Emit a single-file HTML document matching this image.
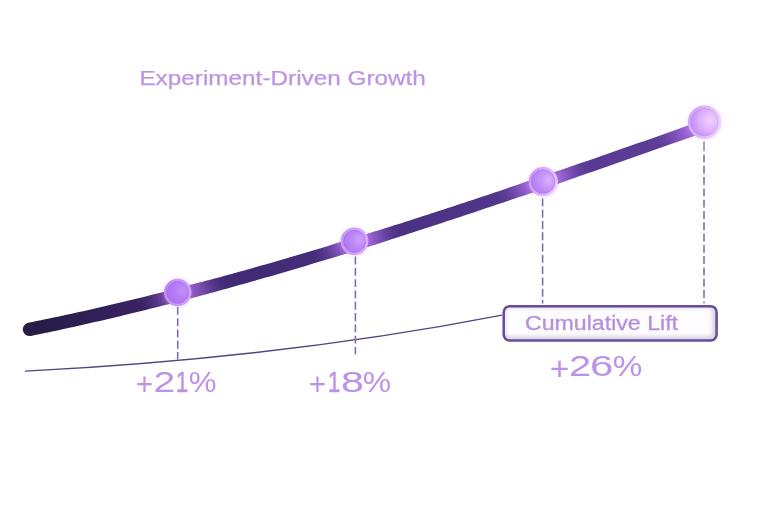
<!DOCTYPE html>
<html><head><meta charset="utf-8">
<style>
html,body{margin:0;padding:0;background:#fff;width:768px;height:512px;overflow:hidden}
svg{display:block}
text{font-family:"Liberation Sans",sans-serif}
</style></head>
<body>
<svg width="768" height="512" viewBox="0 0 768 512">
<defs>
  <linearGradient id="lineG" gradientUnits="userSpaceOnUse" x1="29" y1="0" x2="705" y2="0">
    <stop offset="0" stop-color="#281c48"/>
    <stop offset="0.022" stop-color="#281c48"/>
    <stop offset="0.07" stop-color="#2c1f52"/>
    <stop offset="0.124" stop-color="#36215e"/>
    <stop offset="0.3" stop-color="#422a74"/>
    <stop offset="0.349" stop-color="#432a76"/>
    <stop offset="0.63" stop-color="#4e3487"/>
    <stop offset="0.882" stop-color="#5a3b95"/>
    <stop offset="1" stop-color="#603e9c"/>
  </linearGradient>
  <radialGradient id="dotG0" cx="0.7" cy="0.44" r="0.85">
    <stop offset="0" stop-color="#c290f7"/>
    <stop offset="0.4" stop-color="#b47cf4"/>
    <stop offset="1" stop-color="#a86cf0"/>
  </radialGradient>
  <linearGradient id="ringG0" x1="0" y1="0.3" x2="1" y2="0.6">
    <stop offset="0" stop-color="#c08cf4"/>
    <stop offset="1" stop-color="#d4a4f8"/>
  </linearGradient>
  <radialGradient id="dotG1" cx="0.7" cy="0.44" r="0.85">
    <stop offset="0" stop-color="#cfa2f9"/>
    <stop offset="0.4" stop-color="#bc86f5"/>
    <stop offset="1" stop-color="#a86cf0"/>
  </radialGradient>
  <linearGradient id="ringG1" x1="0" y1="0.3" x2="1" y2="0.6">
    <stop offset="0" stop-color="#c898f5"/>
    <stop offset="1" stop-color="#dcaef8"/>
  </linearGradient>
  <radialGradient id="dotG2" cx="0.7" cy="0.44" r="0.85">
    <stop offset="0" stop-color="#dcb0fb"/>
    <stop offset="0.4" stop-color="#c492f7"/>
    <stop offset="1" stop-color="#aa6ef0"/>
  </radialGradient>
  <linearGradient id="ringG2" x1="0" y1="0.3" x2="1" y2="0.6">
    <stop offset="0" stop-color="#c898f6"/>
    <stop offset="1" stop-color="#eccafa"/>
  </linearGradient>
  <radialGradient id="dotG3" cx="0.7" cy="0.44" r="0.85">
    <stop offset="0" stop-color="#f2d0fc"/>
    <stop offset="0.4" stop-color="#dfb2fa"/>
    <stop offset="1" stop-color="#b078f2"/>
  </radialGradient>
  <linearGradient id="ringG3" x1="0" y1="0.3" x2="1" y2="0.6">
    <stop offset="0" stop-color="#d0a4f7"/>
    <stop offset="1" stop-color="#f0d0fb"/>
  </linearGradient>
  <radialGradient id="glow0" gradientUnits="userSpaceOnUse" cx="183.7" cy="292.5" r="46">
    <stop offset="0" stop-color="#b070ea" stop-opacity="0.76"/>
    <stop offset="0.34" stop-color="#b070ea" stop-opacity="0.58"/>
    <stop offset="0.64" stop-color="#b070ea" stop-opacity="0.22"/>
    <stop offset="0.8" stop-color="#b070ea" stop-opacity="0.08"/>
    <stop offset="1" stop-color="#b070ea" stop-opacity="0"/>
  </radialGradient>
  <radialGradient id="glow1" gradientUnits="userSpaceOnUse" cx="356.5" cy="241.4" r="46">
    <stop offset="0" stop-color="#b070ea" stop-opacity="0.95"/>
    <stop offset="0.34" stop-color="#b070ea" stop-opacity="0.72"/>
    <stop offset="0.64" stop-color="#b070ea" stop-opacity="0.28"/>
    <stop offset="0.8" stop-color="#b070ea" stop-opacity="0.10"/>
    <stop offset="1" stop-color="#b070ea" stop-opacity="0"/>
  </radialGradient>
  <radialGradient id="glow2" gradientUnits="userSpaceOnUse" cx="543.2" cy="181.7" r="50">
    <stop offset="0" stop-color="#b070ea" stop-opacity="1.03"/>
    <stop offset="0.34" stop-color="#b070ea" stop-opacity="0.78"/>
    <stop offset="0.64" stop-color="#b070ea" stop-opacity="0.30"/>
    <stop offset="0.8" stop-color="#b070ea" stop-opacity="0.11"/>
    <stop offset="1" stop-color="#b070ea" stop-opacity="0"/>
  </radialGradient>
  <radialGradient id="glow3" gradientUnits="userSpaceOnUse" cx="704.5" cy="122.2" r="54">
    <stop offset="0" stop-color="#b070ea" stop-opacity="1.09"/>
    <stop offset="0.34" stop-color="#b070ea" stop-opacity="0.83"/>
    <stop offset="0.64" stop-color="#b070ea" stop-opacity="0.32"/>
    <stop offset="0.8" stop-color="#b070ea" stop-opacity="0.11"/>
    <stop offset="1" stop-color="#b070ea" stop-opacity="0"/>
  </radialGradient>
  <radialGradient id="halo" cx="0.5" cy="0.5" r="0.5">
    <stop offset="0.7" stop-color="#c9a0f5" stop-opacity="0.2"/>
    <stop offset="1" stop-color="#c9a0f5" stop-opacity="0"/>
  </radialGradient>
  <clipPath id="boxClip"><rect x="503.7" y="306.2" width="212.9" height="34.4" rx="6" ry="6"/></clipPath>
  <filter id="blur2" x="-10%" y="-50%" width="120%" height="200%"><feGaussianBlur stdDeviation="2"/></filter>
  <linearGradient id="boxG" x1="0" y1="0" x2="1" y2="1">
    <stop offset="0" stop-color="#fbfafd"/>
    <stop offset="0.7" stop-color="#f8f6fb"/>
    <stop offset="1" stop-color="#ece8f2"/>
  </linearGradient>
</defs>
<rect width="768" height="512" fill="#fff"/>

<text x="139.4" y="84.8" font-size="20.7" fill="#bc94e4" stroke="#bc94e4" stroke-width="0.25" textLength="286.5" lengthAdjust="spacingAndGlyphs">Experiment-Driven Growth</text>

<path d="M25.0 371.2 C184.0 363.0 343.0 346.1 502.0 315.1" fill="none" stroke="#54447f" stroke-width="1.35"/>

<g stroke="#8068ae" stroke-width="1.55" stroke-dasharray="7.9 3.4">
  <line x1="177.7" y1="295.6" x2="177.7" y2="359.3"/>
  <line x1="355.4" y1="245.3" x2="355.4" y2="354.5"/>
  <line x1="542.6" y1="175.8" x2="542.6" y2="303.6"/>
  <line x1="704.0" y1="154.5" x2="704.0" y2="303.2"/>
  <line x1="704.0" y1="141.6" x2="704.0" y2="151.2" stroke="#9a7cc8" stroke-dasharray="none"/>
</g>

<path d="M28.17 322.83 L32.41 321.98 L36.64 321.12 L40.88 320.25 L45.11 319.37 L49.35 318.48 L53.58 317.59 L57.82 316.69 L62.05 315.78 L66.29 314.87 L70.53 313.95 L74.76 313.02 L79.00 312.08 L83.23 311.14 L87.47 310.18 L91.71 309.23 L95.94 308.26 L100.18 307.29 L104.42 306.31 L108.65 305.32 L112.89 304.33 L117.13 303.33 L121.36 302.32 L125.60 301.31 L129.84 300.29 L134.07 299.26 L138.31 298.23 L142.55 297.19 L146.79 296.14 L151.02 295.09 L155.26 294.03 L159.50 292.96 L163.74 291.89 L167.98 290.81 L172.21 289.73 L176.45 288.64 L180.69 287.54 L184.93 286.44 L189.17 285.33 L193.41 284.21 L197.64 283.09 L201.88 281.96 L206.12 280.83 L210.36 279.69 L214.60 278.55 L218.84 277.40 L223.08 276.24 L227.32 275.08 L231.56 273.91 L235.79 272.74 L240.03 271.56 L244.27 270.38 L248.51 269.19 L252.75 267.99 L256.99 266.80 L261.23 265.59 L265.47 264.38 L269.71 263.16 L273.95 261.94 L278.19 260.72 L282.43 259.49 L286.67 258.25 L290.91 257.01 L295.15 255.77 L299.39 254.52 L303.64 253.26 L307.88 252.00 L312.12 250.74 L316.36 249.47 L320.60 248.19 L324.84 246.91 L329.08 245.63 L333.32 244.34 L337.56 243.05 L341.80 241.75 L346.05 240.45 L350.29 239.15 L354.53 237.84 L358.77 236.53 L363.01 235.21 L367.25 233.89 L371.50 232.56 L375.74 231.23 L379.98 229.90 L384.22 228.56 L388.46 227.22 L392.71 225.87 L396.95 224.52 L401.19 223.17 L405.43 221.81 L409.68 220.45 L413.92 219.09 L418.16 217.72 L422.40 216.35 L426.65 214.98 L430.89 213.60 L435.13 212.22 L439.37 210.83 L443.62 209.44 L447.86 208.05 L452.10 206.66 L456.35 205.26 L460.59 203.86 L464.83 202.46 L469.08 201.05 L473.32 199.64 L477.56 198.23 L481.81 196.81 L486.05 195.40 L490.30 193.98 L494.54 192.55 L498.78 191.13 L503.03 189.70 L507.27 188.27 L511.52 186.83 L515.76 185.40 L520.00 183.96 L524.25 182.52 L528.49 181.07 L532.74 179.63 L536.98 178.18 L541.23 176.73 L545.47 175.27 L549.72 173.82 L553.96 172.36 L558.20 170.90 L562.45 169.44 L566.69 167.98 L570.94 166.52 L575.18 165.05 L579.43 163.58 L583.67 162.11 L587.92 160.64 L592.16 159.17 L596.41 157.69 L600.66 156.22 L604.90 154.74 L609.15 153.26 L613.39 151.78 L617.64 150.30 L621.88 148.81 L626.13 147.33 L630.37 145.84 L634.62 144.35 L638.87 142.87 L643.11 141.38 L647.36 139.89 L651.60 138.39 L655.85 136.90 L660.10 135.41 L664.34 133.91 L668.59 132.42 L672.84 130.92 L677.08 129.43 L681.33 127.93 L685.57 126.43 L689.82 124.93 L694.07 123.43 L698.31 121.93 L702.56 120.43 A5.80 5.80 0 0 1 706.44 131.37 L702.19 132.88 L697.95 134.39 L693.71 135.90 L689.46 137.41 L685.22 138.92 L680.97 140.43 L676.73 141.93 L672.49 143.44 L668.24 144.95 L664.00 146.45 L659.75 147.96 L655.51 149.46 L651.26 150.96 L647.02 152.47 L642.78 153.97 L638.53 155.47 L634.29 156.97 L630.04 158.46 L625.80 159.96 L621.55 161.46 L617.31 162.95 L613.06 164.44 L608.82 165.93 L604.57 167.42 L600.33 168.91 L596.08 170.40 L591.84 171.88 L587.59 173.37 L583.34 174.85 L579.10 176.33 L574.85 177.81 L570.61 179.29 L566.36 180.76 L562.12 182.23 L557.87 183.70 L553.62 185.17 L549.38 186.64 L545.13 188.11 L540.89 189.57 L536.64 191.03 L532.39 192.49 L528.15 193.94 L523.90 195.40 L519.66 196.85 L515.41 198.30 L511.16 199.75 L506.92 201.19 L502.67 202.63 L498.42 204.07 L494.18 205.51 L489.93 206.94 L485.68 208.37 L481.44 209.80 L477.19 211.23 L472.94 212.65 L468.69 214.07 L464.45 215.48 L460.20 216.90 L455.95 218.31 L451.71 219.72 L447.46 221.12 L443.21 222.52 L438.96 223.92 L434.71 225.31 L430.47 226.71 L426.22 228.09 L421.97 229.48 L417.72 230.86 L413.48 232.24 L409.23 233.61 L404.98 234.98 L400.73 236.35 L396.48 237.71 L392.23 239.07 L387.99 240.43 L383.74 241.78 L379.49 243.13 L375.24 244.47 L370.99 245.81 L366.74 247.14 L362.49 248.48 L358.24 249.80 L354.00 251.13 L349.75 252.45 L345.50 253.76 L341.25 255.07 L337.00 256.38 L332.75 257.68 L328.50 258.98 L324.25 260.27 L320.00 261.56 L315.75 262.84 L311.50 264.12 L307.25 265.40 L303.00 266.67 L298.75 267.93 L294.50 269.19 L290.25 270.45 L286.00 271.70 L281.75 272.94 L277.50 274.18 L273.25 275.42 L269.00 276.65 L264.75 277.87 L260.50 279.09 L256.25 280.31 L252.00 281.52 L247.75 282.72 L243.49 283.92 L239.24 285.11 L234.99 286.30 L230.74 287.48 L226.49 288.66 L222.24 289.83 L217.99 291.00 L213.73 292.16 L209.48 293.31 L205.23 294.46 L200.98 295.60 L196.73 296.74 L192.47 297.87 L188.22 298.99 L183.97 300.11 L179.72 301.22 L175.47 302.33 L171.21 303.43 L166.96 304.52 L162.71 305.61 L158.46 306.69 L154.20 307.77 L149.95 308.84 L145.70 309.90 L141.44 310.96 L137.19 312.00 L132.94 313.05 L128.68 314.08 L124.43 315.11 L120.18 316.13 L115.92 317.15 L111.67 318.16 L107.41 319.16 L103.16 320.16 L98.91 321.14 L94.65 322.12 L90.40 323.10 L86.14 324.07 L81.89 325.03 L77.63 325.98 L73.38 326.92 L69.13 327.86 L64.87 328.79 L60.62 329.71 L56.36 330.63 L52.11 331.54 L47.85 332.44 L43.59 333.33 L39.34 334.22 L35.08 335.10 L30.83 335.97 A6.70 6.70 0 0 1 28.17 322.83 Z" fill="url(#lineG)"/>
<g>
  <path d="M28.17 322.83 L32.41 321.98 L36.64 321.12 L40.88 320.25 L45.11 319.37 L49.35 318.48 L53.58 317.59 L57.82 316.69 L62.05 315.78 L66.29 314.87 L70.53 313.95 L74.76 313.02 L79.00 312.08 L83.23 311.14 L87.47 310.18 L91.71 309.23 L95.94 308.26 L100.18 307.29 L104.42 306.31 L108.65 305.32 L112.89 304.33 L117.13 303.33 L121.36 302.32 L125.60 301.31 L129.84 300.29 L134.07 299.26 L138.31 298.23 L142.55 297.19 L146.79 296.14 L151.02 295.09 L155.26 294.03 L159.50 292.96 L163.74 291.89 L167.98 290.81 L172.21 289.73 L176.45 288.64 L180.69 287.54 L184.93 286.44 L189.17 285.33 L193.41 284.21 L197.64 283.09 L201.88 281.96 L206.12 280.83 L210.36 279.69 L214.60 278.55 L218.84 277.40 L223.08 276.24 L227.32 275.08 L231.56 273.91 L235.79 272.74 L240.03 271.56 L244.27 270.38 L248.51 269.19 L252.75 267.99 L256.99 266.80 L261.23 265.59 L265.47 264.38 L269.71 263.16 L273.95 261.94 L278.19 260.72 L282.43 259.49 L286.67 258.25 L290.91 257.01 L295.15 255.77 L299.39 254.52 L303.64 253.26 L307.88 252.00 L312.12 250.74 L316.36 249.47 L320.60 248.19 L324.84 246.91 L329.08 245.63 L333.32 244.34 L337.56 243.05 L341.80 241.75 L346.05 240.45 L350.29 239.15 L354.53 237.84 L358.77 236.53 L363.01 235.21 L367.25 233.89 L371.50 232.56 L375.74 231.23 L379.98 229.90 L384.22 228.56 L388.46 227.22 L392.71 225.87 L396.95 224.52 L401.19 223.17 L405.43 221.81 L409.68 220.45 L413.92 219.09 L418.16 217.72 L422.40 216.35 L426.65 214.98 L430.89 213.60 L435.13 212.22 L439.37 210.83 L443.62 209.44 L447.86 208.05 L452.10 206.66 L456.35 205.26 L460.59 203.86 L464.83 202.46 L469.08 201.05 L473.32 199.64 L477.56 198.23 L481.81 196.81 L486.05 195.40 L490.30 193.98 L494.54 192.55 L498.78 191.13 L503.03 189.70 L507.27 188.27 L511.52 186.83 L515.76 185.40 L520.00 183.96 L524.25 182.52 L528.49 181.07 L532.74 179.63 L536.98 178.18 L541.23 176.73 L545.47 175.27 L549.72 173.82 L553.96 172.36 L558.20 170.90 L562.45 169.44 L566.69 167.98 L570.94 166.52 L575.18 165.05 L579.43 163.58 L583.67 162.11 L587.92 160.64 L592.16 159.17 L596.41 157.69 L600.66 156.22 L604.90 154.74 L609.15 153.26 L613.39 151.78 L617.64 150.30 L621.88 148.81 L626.13 147.33 L630.37 145.84 L634.62 144.35 L638.87 142.87 L643.11 141.38 L647.36 139.89 L651.60 138.39 L655.85 136.90 L660.10 135.41 L664.34 133.91 L668.59 132.42 L672.84 130.92 L677.08 129.43 L681.33 127.93 L685.57 126.43 L689.82 124.93 L694.07 123.43 L698.31 121.93 L702.56 120.43 A5.80 5.80 0 0 1 706.44 131.37 L702.19 132.88 L697.95 134.39 L693.71 135.90 L689.46 137.41 L685.22 138.92 L680.97 140.43 L676.73 141.93 L672.49 143.44 L668.24 144.95 L664.00 146.45 L659.75 147.96 L655.51 149.46 L651.26 150.96 L647.02 152.47 L642.78 153.97 L638.53 155.47 L634.29 156.97 L630.04 158.46 L625.80 159.96 L621.55 161.46 L617.31 162.95 L613.06 164.44 L608.82 165.93 L604.57 167.42 L600.33 168.91 L596.08 170.40 L591.84 171.88 L587.59 173.37 L583.34 174.85 L579.10 176.33 L574.85 177.81 L570.61 179.29 L566.36 180.76 L562.12 182.23 L557.87 183.70 L553.62 185.17 L549.38 186.64 L545.13 188.11 L540.89 189.57 L536.64 191.03 L532.39 192.49 L528.15 193.94 L523.90 195.40 L519.66 196.85 L515.41 198.30 L511.16 199.75 L506.92 201.19 L502.67 202.63 L498.42 204.07 L494.18 205.51 L489.93 206.94 L485.68 208.37 L481.44 209.80 L477.19 211.23 L472.94 212.65 L468.69 214.07 L464.45 215.48 L460.20 216.90 L455.95 218.31 L451.71 219.72 L447.46 221.12 L443.21 222.52 L438.96 223.92 L434.71 225.31 L430.47 226.71 L426.22 228.09 L421.97 229.48 L417.72 230.86 L413.48 232.24 L409.23 233.61 L404.98 234.98 L400.73 236.35 L396.48 237.71 L392.23 239.07 L387.99 240.43 L383.74 241.78 L379.49 243.13 L375.24 244.47 L370.99 245.81 L366.74 247.14 L362.49 248.48 L358.24 249.80 L354.00 251.13 L349.75 252.45 L345.50 253.76 L341.25 255.07 L337.00 256.38 L332.75 257.68 L328.50 258.98 L324.25 260.27 L320.00 261.56 L315.75 262.84 L311.50 264.12 L307.25 265.40 L303.00 266.67 L298.75 267.93 L294.50 269.19 L290.25 270.45 L286.00 271.70 L281.75 272.94 L277.50 274.18 L273.25 275.42 L269.00 276.65 L264.75 277.87 L260.50 279.09 L256.25 280.31 L252.00 281.52 L247.75 282.72 L243.49 283.92 L239.24 285.11 L234.99 286.30 L230.74 287.48 L226.49 288.66 L222.24 289.83 L217.99 291.00 L213.73 292.16 L209.48 293.31 L205.23 294.46 L200.98 295.60 L196.73 296.74 L192.47 297.87 L188.22 298.99 L183.97 300.11 L179.72 301.22 L175.47 302.33 L171.21 303.43 L166.96 304.52 L162.71 305.61 L158.46 306.69 L154.20 307.77 L149.95 308.84 L145.70 309.90 L141.44 310.96 L137.19 312.00 L132.94 313.05 L128.68 314.08 L124.43 315.11 L120.18 316.13 L115.92 317.15 L111.67 318.16 L107.41 319.16 L103.16 320.16 L98.91 321.14 L94.65 322.12 L90.40 323.10 L86.14 324.07 L81.89 325.03 L77.63 325.98 L73.38 326.92 L69.13 327.86 L64.87 328.79 L60.62 329.71 L56.36 330.63 L52.11 331.54 L47.85 332.44 L43.59 333.33 L39.34 334.22 L35.08 335.10 L30.83 335.97 A6.70 6.70 0 0 1 28.17 322.83 Z" fill="url(#glow0)"/>
  <path d="M28.17 322.83 L32.41 321.98 L36.64 321.12 L40.88 320.25 L45.11 319.37 L49.35 318.48 L53.58 317.59 L57.82 316.69 L62.05 315.78 L66.29 314.87 L70.53 313.95 L74.76 313.02 L79.00 312.08 L83.23 311.14 L87.47 310.18 L91.71 309.23 L95.94 308.26 L100.18 307.29 L104.42 306.31 L108.65 305.32 L112.89 304.33 L117.13 303.33 L121.36 302.32 L125.60 301.31 L129.84 300.29 L134.07 299.26 L138.31 298.23 L142.55 297.19 L146.79 296.14 L151.02 295.09 L155.26 294.03 L159.50 292.96 L163.74 291.89 L167.98 290.81 L172.21 289.73 L176.45 288.64 L180.69 287.54 L184.93 286.44 L189.17 285.33 L193.41 284.21 L197.64 283.09 L201.88 281.96 L206.12 280.83 L210.36 279.69 L214.60 278.55 L218.84 277.40 L223.08 276.24 L227.32 275.08 L231.56 273.91 L235.79 272.74 L240.03 271.56 L244.27 270.38 L248.51 269.19 L252.75 267.99 L256.99 266.80 L261.23 265.59 L265.47 264.38 L269.71 263.16 L273.95 261.94 L278.19 260.72 L282.43 259.49 L286.67 258.25 L290.91 257.01 L295.15 255.77 L299.39 254.52 L303.64 253.26 L307.88 252.00 L312.12 250.74 L316.36 249.47 L320.60 248.19 L324.84 246.91 L329.08 245.63 L333.32 244.34 L337.56 243.05 L341.80 241.75 L346.05 240.45 L350.29 239.15 L354.53 237.84 L358.77 236.53 L363.01 235.21 L367.25 233.89 L371.50 232.56 L375.74 231.23 L379.98 229.90 L384.22 228.56 L388.46 227.22 L392.71 225.87 L396.95 224.52 L401.19 223.17 L405.43 221.81 L409.68 220.45 L413.92 219.09 L418.16 217.72 L422.40 216.35 L426.65 214.98 L430.89 213.60 L435.13 212.22 L439.37 210.83 L443.62 209.44 L447.86 208.05 L452.10 206.66 L456.35 205.26 L460.59 203.86 L464.83 202.46 L469.08 201.05 L473.32 199.64 L477.56 198.23 L481.81 196.81 L486.05 195.40 L490.30 193.98 L494.54 192.55 L498.78 191.13 L503.03 189.70 L507.27 188.27 L511.52 186.83 L515.76 185.40 L520.00 183.96 L524.25 182.52 L528.49 181.07 L532.74 179.63 L536.98 178.18 L541.23 176.73 L545.47 175.27 L549.72 173.82 L553.96 172.36 L558.20 170.90 L562.45 169.44 L566.69 167.98 L570.94 166.52 L575.18 165.05 L579.43 163.58 L583.67 162.11 L587.92 160.64 L592.16 159.17 L596.41 157.69 L600.66 156.22 L604.90 154.74 L609.15 153.26 L613.39 151.78 L617.64 150.30 L621.88 148.81 L626.13 147.33 L630.37 145.84 L634.62 144.35 L638.87 142.87 L643.11 141.38 L647.36 139.89 L651.60 138.39 L655.85 136.90 L660.10 135.41 L664.34 133.91 L668.59 132.42 L672.84 130.92 L677.08 129.43 L681.33 127.93 L685.57 126.43 L689.82 124.93 L694.07 123.43 L698.31 121.93 L702.56 120.43 A5.80 5.80 0 0 1 706.44 131.37 L702.19 132.88 L697.95 134.39 L693.71 135.90 L689.46 137.41 L685.22 138.92 L680.97 140.43 L676.73 141.93 L672.49 143.44 L668.24 144.95 L664.00 146.45 L659.75 147.96 L655.51 149.46 L651.26 150.96 L647.02 152.47 L642.78 153.97 L638.53 155.47 L634.29 156.97 L630.04 158.46 L625.80 159.96 L621.55 161.46 L617.31 162.95 L613.06 164.44 L608.82 165.93 L604.57 167.42 L600.33 168.91 L596.08 170.40 L591.84 171.88 L587.59 173.37 L583.34 174.85 L579.10 176.33 L574.85 177.81 L570.61 179.29 L566.36 180.76 L562.12 182.23 L557.87 183.70 L553.62 185.17 L549.38 186.64 L545.13 188.11 L540.89 189.57 L536.64 191.03 L532.39 192.49 L528.15 193.94 L523.90 195.40 L519.66 196.85 L515.41 198.30 L511.16 199.75 L506.92 201.19 L502.67 202.63 L498.42 204.07 L494.18 205.51 L489.93 206.94 L485.68 208.37 L481.44 209.80 L477.19 211.23 L472.94 212.65 L468.69 214.07 L464.45 215.48 L460.20 216.90 L455.95 218.31 L451.71 219.72 L447.46 221.12 L443.21 222.52 L438.96 223.92 L434.71 225.31 L430.47 226.71 L426.22 228.09 L421.97 229.48 L417.72 230.86 L413.48 232.24 L409.23 233.61 L404.98 234.98 L400.73 236.35 L396.48 237.71 L392.23 239.07 L387.99 240.43 L383.74 241.78 L379.49 243.13 L375.24 244.47 L370.99 245.81 L366.74 247.14 L362.49 248.48 L358.24 249.80 L354.00 251.13 L349.75 252.45 L345.50 253.76 L341.25 255.07 L337.00 256.38 L332.75 257.68 L328.50 258.98 L324.25 260.27 L320.00 261.56 L315.75 262.84 L311.50 264.12 L307.25 265.40 L303.00 266.67 L298.75 267.93 L294.50 269.19 L290.25 270.45 L286.00 271.70 L281.75 272.94 L277.50 274.18 L273.25 275.42 L269.00 276.65 L264.75 277.87 L260.50 279.09 L256.25 280.31 L252.00 281.52 L247.75 282.72 L243.49 283.92 L239.24 285.11 L234.99 286.30 L230.74 287.48 L226.49 288.66 L222.24 289.83 L217.99 291.00 L213.73 292.16 L209.48 293.31 L205.23 294.46 L200.98 295.60 L196.73 296.74 L192.47 297.87 L188.22 298.99 L183.97 300.11 L179.72 301.22 L175.47 302.33 L171.21 303.43 L166.96 304.52 L162.71 305.61 L158.46 306.69 L154.20 307.77 L149.95 308.84 L145.70 309.90 L141.44 310.96 L137.19 312.00 L132.94 313.05 L128.68 314.08 L124.43 315.11 L120.18 316.13 L115.92 317.15 L111.67 318.16 L107.41 319.16 L103.16 320.16 L98.91 321.14 L94.65 322.12 L90.40 323.10 L86.14 324.07 L81.89 325.03 L77.63 325.98 L73.38 326.92 L69.13 327.86 L64.87 328.79 L60.62 329.71 L56.36 330.63 L52.11 331.54 L47.85 332.44 L43.59 333.33 L39.34 334.22 L35.08 335.10 L30.83 335.97 A6.70 6.70 0 0 1 28.17 322.83 Z" fill="url(#glow1)"/>
  <path d="M28.17 322.83 L32.41 321.98 L36.64 321.12 L40.88 320.25 L45.11 319.37 L49.35 318.48 L53.58 317.59 L57.82 316.69 L62.05 315.78 L66.29 314.87 L70.53 313.95 L74.76 313.02 L79.00 312.08 L83.23 311.14 L87.47 310.18 L91.71 309.23 L95.94 308.26 L100.18 307.29 L104.42 306.31 L108.65 305.32 L112.89 304.33 L117.13 303.33 L121.36 302.32 L125.60 301.31 L129.84 300.29 L134.07 299.26 L138.31 298.23 L142.55 297.19 L146.79 296.14 L151.02 295.09 L155.26 294.03 L159.50 292.96 L163.74 291.89 L167.98 290.81 L172.21 289.73 L176.45 288.64 L180.69 287.54 L184.93 286.44 L189.17 285.33 L193.41 284.21 L197.64 283.09 L201.88 281.96 L206.12 280.83 L210.36 279.69 L214.60 278.55 L218.84 277.40 L223.08 276.24 L227.32 275.08 L231.56 273.91 L235.79 272.74 L240.03 271.56 L244.27 270.38 L248.51 269.19 L252.75 267.99 L256.99 266.80 L261.23 265.59 L265.47 264.38 L269.71 263.16 L273.95 261.94 L278.19 260.72 L282.43 259.49 L286.67 258.25 L290.91 257.01 L295.15 255.77 L299.39 254.52 L303.64 253.26 L307.88 252.00 L312.12 250.74 L316.36 249.47 L320.60 248.19 L324.84 246.91 L329.08 245.63 L333.32 244.34 L337.56 243.05 L341.80 241.75 L346.05 240.45 L350.29 239.15 L354.53 237.84 L358.77 236.53 L363.01 235.21 L367.25 233.89 L371.50 232.56 L375.74 231.23 L379.98 229.90 L384.22 228.56 L388.46 227.22 L392.71 225.87 L396.95 224.52 L401.19 223.17 L405.43 221.81 L409.68 220.45 L413.92 219.09 L418.16 217.72 L422.40 216.35 L426.65 214.98 L430.89 213.60 L435.13 212.22 L439.37 210.83 L443.62 209.44 L447.86 208.05 L452.10 206.66 L456.35 205.26 L460.59 203.86 L464.83 202.46 L469.08 201.05 L473.32 199.64 L477.56 198.23 L481.81 196.81 L486.05 195.40 L490.30 193.98 L494.54 192.55 L498.78 191.13 L503.03 189.70 L507.27 188.27 L511.52 186.83 L515.76 185.40 L520.00 183.96 L524.25 182.52 L528.49 181.07 L532.74 179.63 L536.98 178.18 L541.23 176.73 L545.47 175.27 L549.72 173.82 L553.96 172.36 L558.20 170.90 L562.45 169.44 L566.69 167.98 L570.94 166.52 L575.18 165.05 L579.43 163.58 L583.67 162.11 L587.92 160.64 L592.16 159.17 L596.41 157.69 L600.66 156.22 L604.90 154.74 L609.15 153.26 L613.39 151.78 L617.64 150.30 L621.88 148.81 L626.13 147.33 L630.37 145.84 L634.62 144.35 L638.87 142.87 L643.11 141.38 L647.36 139.89 L651.60 138.39 L655.85 136.90 L660.10 135.41 L664.34 133.91 L668.59 132.42 L672.84 130.92 L677.08 129.43 L681.33 127.93 L685.57 126.43 L689.82 124.93 L694.07 123.43 L698.31 121.93 L702.56 120.43 A5.80 5.80 0 0 1 706.44 131.37 L702.19 132.88 L697.95 134.39 L693.71 135.90 L689.46 137.41 L685.22 138.92 L680.97 140.43 L676.73 141.93 L672.49 143.44 L668.24 144.95 L664.00 146.45 L659.75 147.96 L655.51 149.46 L651.26 150.96 L647.02 152.47 L642.78 153.97 L638.53 155.47 L634.29 156.97 L630.04 158.46 L625.80 159.96 L621.55 161.46 L617.31 162.95 L613.06 164.44 L608.82 165.93 L604.57 167.42 L600.33 168.91 L596.08 170.40 L591.84 171.88 L587.59 173.37 L583.34 174.85 L579.10 176.33 L574.85 177.81 L570.61 179.29 L566.36 180.76 L562.12 182.23 L557.87 183.70 L553.62 185.17 L549.38 186.64 L545.13 188.11 L540.89 189.57 L536.64 191.03 L532.39 192.49 L528.15 193.94 L523.90 195.40 L519.66 196.85 L515.41 198.30 L511.16 199.75 L506.92 201.19 L502.67 202.63 L498.42 204.07 L494.18 205.51 L489.93 206.94 L485.68 208.37 L481.44 209.80 L477.19 211.23 L472.94 212.65 L468.69 214.07 L464.45 215.48 L460.20 216.90 L455.95 218.31 L451.71 219.72 L447.46 221.12 L443.21 222.52 L438.96 223.92 L434.71 225.31 L430.47 226.71 L426.22 228.09 L421.97 229.48 L417.72 230.86 L413.48 232.24 L409.23 233.61 L404.98 234.98 L400.73 236.35 L396.48 237.71 L392.23 239.07 L387.99 240.43 L383.74 241.78 L379.49 243.13 L375.24 244.47 L370.99 245.81 L366.74 247.14 L362.49 248.48 L358.24 249.80 L354.00 251.13 L349.75 252.45 L345.50 253.76 L341.25 255.07 L337.00 256.38 L332.75 257.68 L328.50 258.98 L324.25 260.27 L320.00 261.56 L315.75 262.84 L311.50 264.12 L307.25 265.40 L303.00 266.67 L298.75 267.93 L294.50 269.19 L290.25 270.45 L286.00 271.70 L281.75 272.94 L277.50 274.18 L273.25 275.42 L269.00 276.65 L264.75 277.87 L260.50 279.09 L256.25 280.31 L252.00 281.52 L247.75 282.72 L243.49 283.92 L239.24 285.11 L234.99 286.30 L230.74 287.48 L226.49 288.66 L222.24 289.83 L217.99 291.00 L213.73 292.16 L209.48 293.31 L205.23 294.46 L200.98 295.60 L196.73 296.74 L192.47 297.87 L188.22 298.99 L183.97 300.11 L179.72 301.22 L175.47 302.33 L171.21 303.43 L166.96 304.52 L162.71 305.61 L158.46 306.69 L154.20 307.77 L149.95 308.84 L145.70 309.90 L141.44 310.96 L137.19 312.00 L132.94 313.05 L128.68 314.08 L124.43 315.11 L120.18 316.13 L115.92 317.15 L111.67 318.16 L107.41 319.16 L103.16 320.16 L98.91 321.14 L94.65 322.12 L90.40 323.10 L86.14 324.07 L81.89 325.03 L77.63 325.98 L73.38 326.92 L69.13 327.86 L64.87 328.79 L60.62 329.71 L56.36 330.63 L52.11 331.54 L47.85 332.44 L43.59 333.33 L39.34 334.22 L35.08 335.10 L30.83 335.97 A6.70 6.70 0 0 1 28.17 322.83 Z" fill="url(#glow2)"/>
  <path d="M28.17 322.83 L32.41 321.98 L36.64 321.12 L40.88 320.25 L45.11 319.37 L49.35 318.48 L53.58 317.59 L57.82 316.69 L62.05 315.78 L66.29 314.87 L70.53 313.95 L74.76 313.02 L79.00 312.08 L83.23 311.14 L87.47 310.18 L91.71 309.23 L95.94 308.26 L100.18 307.29 L104.42 306.31 L108.65 305.32 L112.89 304.33 L117.13 303.33 L121.36 302.32 L125.60 301.31 L129.84 300.29 L134.07 299.26 L138.31 298.23 L142.55 297.19 L146.79 296.14 L151.02 295.09 L155.26 294.03 L159.50 292.96 L163.74 291.89 L167.98 290.81 L172.21 289.73 L176.45 288.64 L180.69 287.54 L184.93 286.44 L189.17 285.33 L193.41 284.21 L197.64 283.09 L201.88 281.96 L206.12 280.83 L210.36 279.69 L214.60 278.55 L218.84 277.40 L223.08 276.24 L227.32 275.08 L231.56 273.91 L235.79 272.74 L240.03 271.56 L244.27 270.38 L248.51 269.19 L252.75 267.99 L256.99 266.80 L261.23 265.59 L265.47 264.38 L269.71 263.16 L273.95 261.94 L278.19 260.72 L282.43 259.49 L286.67 258.25 L290.91 257.01 L295.15 255.77 L299.39 254.52 L303.64 253.26 L307.88 252.00 L312.12 250.74 L316.36 249.47 L320.60 248.19 L324.84 246.91 L329.08 245.63 L333.32 244.34 L337.56 243.05 L341.80 241.75 L346.05 240.45 L350.29 239.15 L354.53 237.84 L358.77 236.53 L363.01 235.21 L367.25 233.89 L371.50 232.56 L375.74 231.23 L379.98 229.90 L384.22 228.56 L388.46 227.22 L392.71 225.87 L396.95 224.52 L401.19 223.17 L405.43 221.81 L409.68 220.45 L413.92 219.09 L418.16 217.72 L422.40 216.35 L426.65 214.98 L430.89 213.60 L435.13 212.22 L439.37 210.83 L443.62 209.44 L447.86 208.05 L452.10 206.66 L456.35 205.26 L460.59 203.86 L464.83 202.46 L469.08 201.05 L473.32 199.64 L477.56 198.23 L481.81 196.81 L486.05 195.40 L490.30 193.98 L494.54 192.55 L498.78 191.13 L503.03 189.70 L507.27 188.27 L511.52 186.83 L515.76 185.40 L520.00 183.96 L524.25 182.52 L528.49 181.07 L532.74 179.63 L536.98 178.18 L541.23 176.73 L545.47 175.27 L549.72 173.82 L553.96 172.36 L558.20 170.90 L562.45 169.44 L566.69 167.98 L570.94 166.52 L575.18 165.05 L579.43 163.58 L583.67 162.11 L587.92 160.64 L592.16 159.17 L596.41 157.69 L600.66 156.22 L604.90 154.74 L609.15 153.26 L613.39 151.78 L617.64 150.30 L621.88 148.81 L626.13 147.33 L630.37 145.84 L634.62 144.35 L638.87 142.87 L643.11 141.38 L647.36 139.89 L651.60 138.39 L655.85 136.90 L660.10 135.41 L664.34 133.91 L668.59 132.42 L672.84 130.92 L677.08 129.43 L681.33 127.93 L685.57 126.43 L689.82 124.93 L694.07 123.43 L698.31 121.93 L702.56 120.43 A5.80 5.80 0 0 1 706.44 131.37 L702.19 132.88 L697.95 134.39 L693.71 135.90 L689.46 137.41 L685.22 138.92 L680.97 140.43 L676.73 141.93 L672.49 143.44 L668.24 144.95 L664.00 146.45 L659.75 147.96 L655.51 149.46 L651.26 150.96 L647.02 152.47 L642.78 153.97 L638.53 155.47 L634.29 156.97 L630.04 158.46 L625.80 159.96 L621.55 161.46 L617.31 162.95 L613.06 164.44 L608.82 165.93 L604.57 167.42 L600.33 168.91 L596.08 170.40 L591.84 171.88 L587.59 173.37 L583.34 174.85 L579.10 176.33 L574.85 177.81 L570.61 179.29 L566.36 180.76 L562.12 182.23 L557.87 183.70 L553.62 185.17 L549.38 186.64 L545.13 188.11 L540.89 189.57 L536.64 191.03 L532.39 192.49 L528.15 193.94 L523.90 195.40 L519.66 196.85 L515.41 198.30 L511.16 199.75 L506.92 201.19 L502.67 202.63 L498.42 204.07 L494.18 205.51 L489.93 206.94 L485.68 208.37 L481.44 209.80 L477.19 211.23 L472.94 212.65 L468.69 214.07 L464.45 215.48 L460.20 216.90 L455.95 218.31 L451.71 219.72 L447.46 221.12 L443.21 222.52 L438.96 223.92 L434.71 225.31 L430.47 226.71 L426.22 228.09 L421.97 229.48 L417.72 230.86 L413.48 232.24 L409.23 233.61 L404.98 234.98 L400.73 236.35 L396.48 237.71 L392.23 239.07 L387.99 240.43 L383.74 241.78 L379.49 243.13 L375.24 244.47 L370.99 245.81 L366.74 247.14 L362.49 248.48 L358.24 249.80 L354.00 251.13 L349.75 252.45 L345.50 253.76 L341.25 255.07 L337.00 256.38 L332.75 257.68 L328.50 258.98 L324.25 260.27 L320.00 261.56 L315.75 262.84 L311.50 264.12 L307.25 265.40 L303.00 266.67 L298.75 267.93 L294.50 269.19 L290.25 270.45 L286.00 271.70 L281.75 272.94 L277.50 274.18 L273.25 275.42 L269.00 276.65 L264.75 277.87 L260.50 279.09 L256.25 280.31 L252.00 281.52 L247.75 282.72 L243.49 283.92 L239.24 285.11 L234.99 286.30 L230.74 287.48 L226.49 288.66 L222.24 289.83 L217.99 291.00 L213.73 292.16 L209.48 293.31 L205.23 294.46 L200.98 295.60 L196.73 296.74 L192.47 297.87 L188.22 298.99 L183.97 300.11 L179.72 301.22 L175.47 302.33 L171.21 303.43 L166.96 304.52 L162.71 305.61 L158.46 306.69 L154.20 307.77 L149.95 308.84 L145.70 309.90 L141.44 310.96 L137.19 312.00 L132.94 313.05 L128.68 314.08 L124.43 315.11 L120.18 316.13 L115.92 317.15 L111.67 318.16 L107.41 319.16 L103.16 320.16 L98.91 321.14 L94.65 322.12 L90.40 323.10 L86.14 324.07 L81.89 325.03 L77.63 325.98 L73.38 326.92 L69.13 327.86 L64.87 328.79 L60.62 329.71 L56.36 330.63 L52.11 331.54 L47.85 332.44 L43.59 333.33 L39.34 334.22 L35.08 335.10 L30.83 335.97 A6.70 6.70 0 0 1 28.17 322.83 Z" fill="url(#glow3)"/>
</g>

<g>
  <circle cx="177.7" cy="292.5" r="17.8" fill="url(#halo)"/>
  <circle cx="177.7" cy="292.5" r="12.4" fill="url(#dotG0)" stroke="url(#ringG0)" stroke-width="2.7"/>
  <circle cx="177.7" cy="292.5" r="10.95" fill="none" stroke="#a466ea" stroke-width="1" stroke-opacity="0.5"/>
  <circle cx="354.5" cy="241.4" r="17.9" fill="url(#halo)"/>
  <circle cx="354.5" cy="241.4" r="12.5" fill="url(#dotG1)" stroke="url(#ringG1)" stroke-width="2.7"/>
  <circle cx="354.5" cy="241.4" r="11.05" fill="none" stroke="#a466ea" stroke-width="1" stroke-opacity="0.5"/>
  <circle cx="543.2" cy="181.7" r="18.6" fill="url(#halo)"/>
  <circle cx="543.2" cy="181.7" r="13.2" fill="url(#dotG2)" stroke="url(#ringG2)" stroke-width="2.8"/>
  <circle cx="543.2" cy="181.7" r="11.70" fill="none" stroke="#a466ea" stroke-width="1" stroke-opacity="0.5"/>
  <circle cx="704.5" cy="122.2" r="20.7" fill="url(#halo)"/>
  <circle cx="704.5" cy="122.2" r="15.2" fill="url(#dotG3)" stroke="url(#ringG3)" stroke-width="3.0"/>
  <circle cx="704.5" cy="122.2" r="13.60" fill="none" stroke="#a466ea" stroke-width="1" stroke-opacity="0.25"/>
</g>

<rect x="503.7" y="306.2" width="212.9" height="34.4" rx="6" ry="6" fill="#fdfcfe"/>
<g clip-path="url(#boxClip)">
  <rect x="502.4" y="304.9" width="212.9" height="34.4" rx="6" ry="6" fill="none" stroke="#8c7aa8" stroke-opacity="0.4" stroke-width="5" filter="url(#blur2)"/>
</g>
<rect x="503.7" y="306.2" width="212.9" height="34.4" rx="6" ry="6" fill="none" stroke="#674c9c" stroke-width="2.5"/>
<text x="525" y="329.7" font-size="19.4" fill="#b68ede" stroke="#b68ede" stroke-width="0.3" textLength="153" lengthAdjust="spacingAndGlyphs">Cumulative Lift</text>

<text x="135.74" y="395.0" font-size="30.7" style="font-family:'Liberation Sans',sans-serif" fill="#bb92e6" textLength="17.43" lengthAdjust="spacingAndGlyphs">+</text>
<text x="153.63" y="391.5" font-size="28.6" style="font-family:'Liberation Sans',sans-serif" fill="#bb92e6" textLength="21.73" lengthAdjust="spacingAndGlyphs">2</text>
<text x="175.67" y="391.5" font-size="28.8" style="font-family:'Liberation Sans',sans-serif" fill="#bb92e6" textLength="12.64" lengthAdjust="spacingAndGlyphs" stroke="#bb92e6" stroke-width="0.4" stroke-linejoin="round">1</text>
<text x="188.89" y="391.5" font-size="28.7" style="font-family:'Liberation Sans',sans-serif" fill="#bb92e6" textLength="27.72" lengthAdjust="spacingAndGlyphs">%</text>
<text x="308.74" y="395.0" font-size="30.7" style="font-family:'Liberation Sans',sans-serif" fill="#bb92e6" textLength="17.43" lengthAdjust="spacingAndGlyphs">+</text>
<text x="327.67" y="391.5" font-size="28.8" style="font-family:'Liberation Sans',sans-serif" fill="#bb92e6" textLength="12.64" lengthAdjust="spacingAndGlyphs" stroke="#bb92e6" stroke-width="0.4" stroke-linejoin="round">1</text>
<text x="341.11" y="391.5" font-size="28.7" style="font-family:'Liberation Sans',sans-serif" fill="#bb92e6" textLength="22.87" lengthAdjust="spacingAndGlyphs">8</text>
<text x="362.86" y="391.5" font-size="28.7" style="font-family:'Liberation Sans',sans-serif" fill="#bb92e6" textLength="28.37" lengthAdjust="spacingAndGlyphs">%</text>
<text x="549.66" y="379.6" font-size="33.9" style="font-family:'Liberation Sans',sans-serif" fill="#bb92e6" textLength="19.59" lengthAdjust="spacingAndGlyphs">+</text>
<text x="569.09" y="375.9" font-size="30.0" style="font-family:'Liberation Sans',sans-serif" fill="#bb92e6" textLength="22.22" lengthAdjust="spacingAndGlyphs">2</text>
<text x="589.96" y="375.9" font-size="29.9" style="font-family:'Liberation Sans',sans-serif" fill="#bb92e6" textLength="23.38" lengthAdjust="spacingAndGlyphs">6</text>
<text x="612.81" y="375.9" font-size="29.9" style="font-family:'Liberation Sans',sans-serif" fill="#bb92e6" textLength="29.57" lengthAdjust="spacingAndGlyphs">%</text>
</svg>
</body></html>
